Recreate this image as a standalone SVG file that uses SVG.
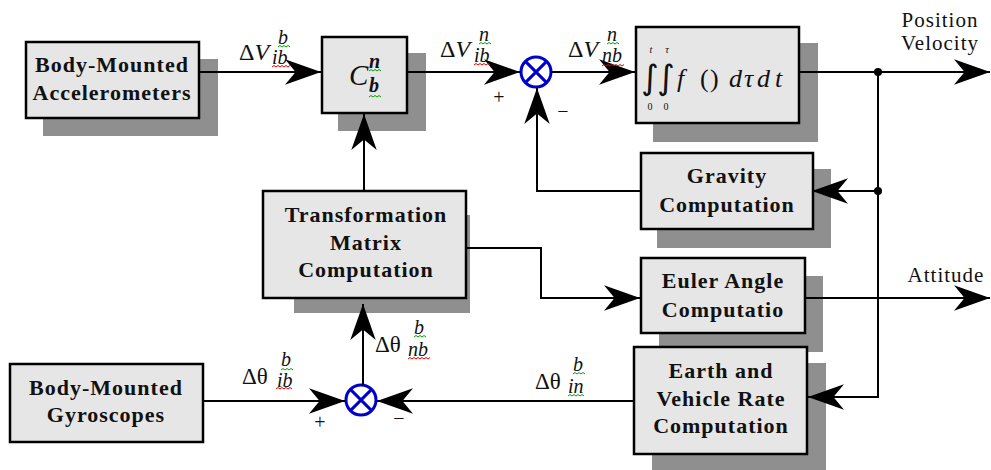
<svg xmlns="http://www.w3.org/2000/svg" width="991" height="470" viewBox="0 0 991 470">
<style>
.box{fill:#e6e6e6;stroke:#000;stroke-width:2.5}
.shadow{fill:#8f8f8f}
.lbl{font-family:"Liberation Serif",serif;font-weight:bold;font-size:22px;letter-spacing:1px;text-anchor:middle;fill:#111}
.out{font-family:"Liberation Serif",serif;font-size:21px;letter-spacing:1px;text-anchor:middle;fill:#111}
.math{font-family:"Liberation Serif",serif;font-size:24px;fill:#111}
.it{font-style:italic}
.scr{font-family:"Liberation Serif",serif;font-style:italic;font-size:20px;fill:#111}
.lim{font-family:"Liberation Serif",serif;font-size:10px;text-anchor:middle;fill:#111}
.int{font-family:"DejaVu Sans",sans-serif;font-size:34px;text-anchor:middle;fill:#111}
.pm{font-family:"Liberation Serif",serif;font-size:20px;text-anchor:middle;fill:#111}
.conn{fill:none;stroke:#000;stroke-width:2}
.sum{fill:#fff;stroke:#0000cc;stroke-width:3}
.sumx{stroke:#0000cc;stroke-width:3}
.sqg{fill:none;stroke:#00a000;stroke-width:1}
.sqr{fill:none;stroke:#e00000;stroke-width:1}
</style>
<defs>
<marker id="ah" markerUnits="userSpaceOnUse" markerWidth="36" markerHeight="26" viewBox="0 0 34 24" refX="34" refY="12" orient="auto">
<path d="M34,12 L0,0 L10,12 L0,24 Z" fill="#000"/>
</marker>
</defs>
<rect width="991" height="470" fill="#fff"/>

<g id="shadows">
<rect class="shadow" x="43" y="59" width="175" height="77"/>
<rect class="shadow" x="338" y="53" width="88" height="78"/>
<rect class="shadow" x="653" y="43" width="165" height="99"/>
<rect class="shadow" x="657" y="169" width="174" height="79"/>
<rect class="shadow" x="294" y="215" width="176" height="98"/>
<rect class="shadow" x="659" y="276" width="164" height="76"/>
<rect class="shadow" x="652" y="363" width="174" height="107"/>
</g>

<g id="accel">
<rect class="box" x="26" y="42" width="173" height="76"/>
<text class="lbl" x="112" y="72">Body-Mounted</text>
<text class="lbl" x="112" y="100">Accelerometers</text>
</g>

<g id="cbn">
<rect class="box" x="322" y="37" width="85" height="76"/>
<text class="math it" x="349" y="85" style="font-size:29px">C</text>
<text class="scr" x="369" y="68" style="font-weight:bold">n</text>
<text class="scr" x="369" y="92" style="font-weight:bold">b</text>
</g>

<g id="integrator">
<rect class="box" x="636" y="27" width="163" height="96"/>
<text class="int" x="650" y="89">∫</text>
<text class="int" x="666" y="89">∫</text>
<text class="lim it" x="651" y="53">t</text>
<text class="lim it" x="667" y="53">τ</text>
<text class="lim" x="650" y="110">0</text>
<text class="lim" x="666" y="110">0</text>
<text class="math it" x="677" y="87" style="font-size:26px">f</text>
<text class="math" x="700" y="87" style="font-size:26px">(</text>
<text class="math" x="710" y="87" style="font-size:26px">)</text>
<text class="math it" x="729" y="87" style="font-size:26px">d</text>
<text class="math it" x="744" y="87" style="font-size:26px">τ</text>
<text class="math it" x="757" y="87" style="font-size:26px">d</text>
<text class="math it" x="775" y="87" style="font-size:26px">t</text>
</g>

<g id="gravity">
<rect class="box" x="641" y="153" width="172" height="76"/>
<text class="lbl" x="727" y="183">Gravity</text>
<text class="lbl" x="727" y="212">Computation</text>
</g>

<g id="transform">
<rect class="box" x="263" y="191" width="203" height="107"/>
<text class="lbl" x="366" y="222">Transformation</text>
<text class="lbl" x="366" y="250">Matrix</text>
<text class="lbl" x="366" y="277">Computation</text>
</g>

<g id="euler">
<rect class="box" x="641" y="258" width="164" height="75"/>
<text class="lbl" x="723" y="288">Euler Angle</text>
<text class="lbl" x="723" y="317">Computatio</text>
</g>

<g id="gyro">
<rect class="box" x="10" y="364" width="193" height="78"/>
<text class="lbl" x="106" y="395">Body-Mounted</text>
<text class="lbl" x="106" y="422">Gyroscopes</text>
</g>

<g id="earth">
<rect class="box" x="634" y="347" width="173" height="107"/>
<text class="lbl" x="721" y="378">Earth and</text>
<text class="lbl" x="721" y="406">Vehicle Rate</text>
<text class="lbl" x="721" y="433">Computation</text>
</g>

<g id="sum1">
<circle class="sum" cx="536" cy="72" r="15"/>
<path class="sumx" d="M525.4,61.4 L546.6,82.6 M546.6,61.4 L525.4,82.6"/>
</g>
<g id="sum2">
<circle class="sum" cx="361" cy="400" r="15"/>
<path class="sumx" d="M350.4,389.4 L371.6,410.6 M371.6,389.4 L350.4,410.6"/>
</g>

<g id="connectors">
<path class="conn" d="M199,72 H321" marker-end="url(#ah)"/>
<path class="conn" d="M407,72 H520" marker-end="url(#ah)"/>
<path class="conn" d="M551,72 H635" marker-end="url(#ah)"/>
<path class="conn" d="M799,72 H990" marker-end="url(#ah)"/>
<path class="conn" d="M878,72 V397 H808" marker-end="url(#ah)"/>
<path class="conn" d="M878,191 H812" marker-end="url(#ah)"/>
<path class="conn" d="M641,191 H537 V88" marker-end="url(#ah)"/>
<path class="conn" d="M364,191 V114" marker-end="url(#ah)"/>
<path class="conn" d="M466,248 H541 V298 H640" marker-end="url(#ah)"/>
<path class="conn" d="M805,298 H990" marker-end="url(#ah)"/>
<path class="conn" d="M203,401 H345" marker-end="url(#ah)"/>
<path class="conn" d="M634,401 H377" marker-end="url(#ah)"/>
<path class="conn" d="M363,385 V304" marker-end="url(#ah)"/>
<circle cx="878" cy="72" r="4" fill="#000"/>
<circle cx="878" cy="191" r="4" fill="#000"/>
</g>

<g id="labels">
<text class="math" x="239" y="60">Δ<tspan class="it">V</tspan></text>
<text class="scr" x="278" y="44">b</text>
<text class="scr" x="272" y="64">ib</text>
<path class="sqg" d="M278,47 l2,-1.5 l2,1.5 l2,-1.5 l2,1.5 l2,-1.5 l2,1.5"/>
<path class="sqr" d="M272,67 l2,-1.5 l2,1.5 l2,-1.5 l2,1.5 l2,-1.5 l2,1.5 l2,-1.5 l2,1.5 l2,-1.5"/>

<text class="math" x="440" y="57">Δ<tspan class="it">V</tspan></text>
<text class="scr" x="479" y="41">n</text>
<text class="scr" x="474" y="62">ib</text>
<path class="sqg" d="M479,44 l2,-1.5 l2,1.5 l2,-1.5 l2,1.5 l2,-1.5 l2,1.5"/>
<path class="sqr" d="M474,65 l2,-1.5 l2,1.5 l2,-1.5 l2,1.5 l2,-1.5 l2,1.5 l2,-1.5 l2,1.5"/>

<text class="math" x="568" y="57">Δ<tspan class="it">V</tspan></text>
<text class="scr" x="607" y="41">n</text>
<text class="scr" x="602" y="62">nb</text>
<path class="sqg" d="M607,44 l2,-1.5 l2,1.5 l2,-1.5 l2,1.5 l2,-1.5 l2,1.5"/>
<path class="sqr" d="M602,66 l2,-1.5 l2,1.5 l2,-1.5 l2,1.5 l2,-1.5 l2,1.5 l2,-1.5 l2,1.5 l2,-1.5 l2,1.5 l2,-1.5"/>

<path class="sqg" d="M369,71 l2,-1.5 l2,1.5 l2,-1.5 l2,1.5 l2,-1.5 l2,1.5"/>
<path class="sqg" d="M369,97 l2,-1.5 l2,1.5 l2,-1.5 l2,1.5 l2,-1.5 l2,1.5"/>

<text class="math" x="375" y="352" style="font-size:23px">Δθ</text>
<text class="scr" x="414" y="334">b</text>
<text class="scr" x="408" y="356">nb</text>
<path class="sqg" d="M414,337 l2,-1.5 l2,1.5 l2,-1.5 l2,1.5 l2,-1.5 l2,1.5"/>
<path class="sqr" d="M408,359 l2,-1.5 l2,1.5 l2,-1.5 l2,1.5 l2,-1.5 l2,1.5 l2,-1.5 l2,1.5 l2,-1.5 l2,1.5 l2,-1.5"/>

<text class="math" x="242" y="384" style="font-size:23px">Δθ</text>
<text class="scr" x="281" y="366">b</text>
<text class="scr" x="277" y="387">ib</text>
<path class="sqg" d="M281,370 l2,-1.5 l2,1.5 l2,-1.5 l2,1.5 l2,-1.5 l2,1.5"/>
<path class="sqr" d="M276,389 l2,-1.5 l2,1.5 l2,-1.5 l2,1.5 l2,-1.5 l2,1.5 l2,-1.5 l2,1.5"/>

<text class="math" x="535" y="389" style="font-size:23px">Δθ</text>
<text class="scr" x="573" y="371">b</text>
<text class="scr" x="568" y="393">in</text>
<path class="sqg" d="M573,374 l2,-1.5 l2,1.5 l2,-1.5 l2,1.5 l2,-1.5 l2,1.5"/>
<path class="sqg" d="M568,396 l2,-1.5 l2,1.5 l2,-1.5 l2,1.5 l2,-1.5 l2,1.5 l2,-1.5 l2,1.5"/>

<text class="pm" x="499" y="104">+</text>
<text class="pm" x="563" y="118">−</text>
<text class="pm" x="320" y="429">+</text>
<text class="pm" x="399" y="425">−</text>

<text class="out" x="940" y="27">Position</text>
<text class="out" x="940" y="50">Velocity</text>
<text class="out" x="946" y="282">Attitude</text>
</g>
</svg>
